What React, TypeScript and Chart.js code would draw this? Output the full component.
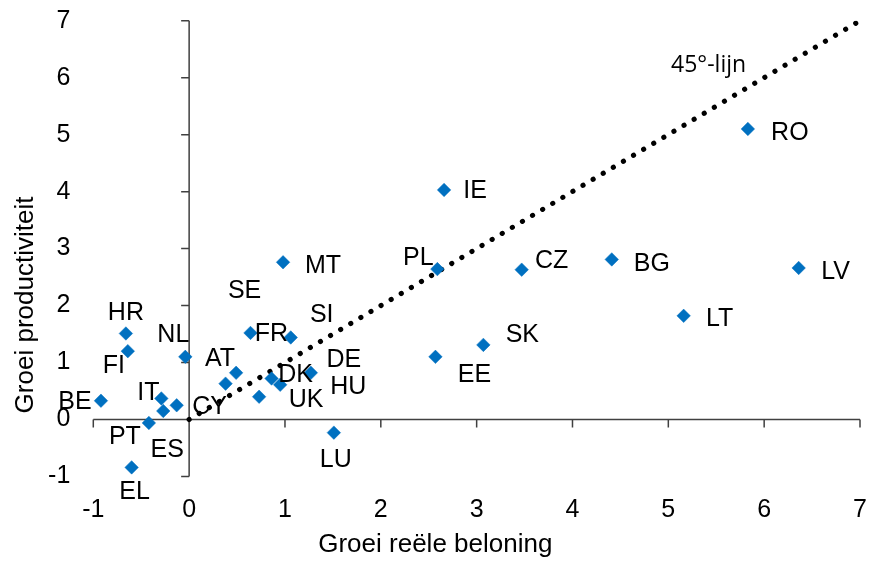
import { useEffect, useRef } from "react";
import { Chart, registerables } from "chart.js";

Chart.register(...registerables);

// ---- data ----
const countries = ["RO", "IE", "MT", "PL", "CZ", "BG", "LV", "LT", "SK", "EE", "HR", "FI", "NL", "BE", "IT", "CY", "ES", "PT", "EL", "FR", "SI", "AT", "SE", "DK", "HU", "DE", "UK", "LU"];
const wageGrowth = [5.83, 2.66, 0.98, 2.59, 3.47, 4.41, 6.36, 5.16, 3.07, 2.57, -0.66, -0.64, -0.04, -0.92, -0.29, -0.13, -0.27, -0.42, -0.6, 0.64, 1.06, 0.49, 0.38, 0.86, 0.95, 1.27, 0.73, 1.51];
const productivityGrowth = [5.1, 4.03, 2.76, 2.64, 2.63, 2.81, 2.66, 1.82, 1.31, 1.1, 1.51, 1.2, 1.1, 0.33, 0.37, 0.25, 0.15, -0.06, -0.84, 1.52, 1.44, 0.82, 0.63, 0.72, 0.61, 0.82, 0.4, -0.23];
const lineX = [0, 7];
const lineY = [0, 7];
const xTicks = [-1, 0, 1, 2, 3, 4, 5, 6, 7];
const yTicks = [-1, 0, 1, 2, 3, 4, 5, 6, 7];
const xTitle = "Groei reële beloning";
const yTitle = "Groei productiviteit";
const lineLabel = "45°-lijn";

// ---- layout / style (label offsets in px, relative to each marker) ----
const labelOffsets: [number, number][] = [
  [42, 2], [31, -1], [40, 2], [-19, -13], [30, -11], [40, 3], [37, 2], [36, 1], [39, -12], [39, 16],
  [0, -22], [-14, 13], [-12, -24], [-26, -1], [-13, -7], [33, 0], [4, 37], [-24, 12], [3, 23],
  [21, -1], [31, -24], [-16, -16], [19, -95], [24, -5], [68, 0], [33, -15], [47, 1], [2, 25],
];
const lineLabelAt = [5.42, 6.25];
const BLUE = "#0070C0";
const AXIS = "#404040";
const FONT = "'Liberation Sans', Arial, sans-serif";

const crossAxes = {
  id: "crossAxes",
  beforeDatasetsDraw(chart: any) {
    const { ctx, scales } = chart;
    const x = scales.x, y = scales.y;
    const x0 = x.getPixelForValue(0);
    const y0 = y.getPixelForValue(0);
    ctx.save();
    ctx.strokeStyle = AXIS;
    ctx.lineWidth = 1.5;
    ctx.beginPath();
    ctx.moveTo(x0, y.getPixelForValue(yTicks[0]));
    ctx.lineTo(x0, y.getPixelForValue(yTicks[yTicks.length - 1]));
    ctx.moveTo(x.getPixelForValue(xTicks[0]), y0);
    ctx.lineTo(x.getPixelForValue(xTicks[xTicks.length - 1]), y0);
    yTicks.forEach((v) => {
      const p = y.getPixelForValue(v);
      ctx.moveTo(x0 - 8, p);
      ctx.lineTo(x0, p);
    });
    xTicks.forEach((v) => {
      const p = x.getPixelForValue(v);
      ctx.moveTo(p, y0);
      ctx.lineTo(p, y0 + 8);
    });
    ctx.stroke();
    ctx.restore();
  },
};

const textLayer = {
  id: "textLayer",
  afterDatasetsDraw(chart: any) {
    const { ctx, scales, chartArea } = chart;
    const meta = chart.getDatasetMeta(0);
    ctx.save();
    ctx.fillStyle = "#000";
    ctx.textAlign = "center";
    ctx.textBaseline = "alphabetic";
    ctx.font = `25px ${FONT}`;
    const capHalf = 0.716 * 25 / 2;
    meta.data.forEach((el: any, i: number) => {
      const [dx, dy] = labelOffsets[i];
      ctx.fillText(countries[i], el.x + dx, el.y + dy + capHalf);
    });
    // 45 degree line label
    ctx.font = `23px 'Open Sans', sans-serif`;
    ctx.fillText(lineLabel, scales.x.getPixelForValue(lineLabelAt[0]), scales.y.getPixelForValue(lineLabelAt[1]) + 0.714 * 23 / 2);
    // axis titles
    ctx.font = `26px ${FONT}`;
    const tCap = 0.716 * 26 / 2;
    ctx.fillText(xTitle, chartArea.left + 342, chartArea.bottom + 66 + tCap);
    ctx.translate(24, 305);
    ctx.rotate(-Math.PI / 2);
    ctx.fillText(yTitle, 0, tCap);
    ctx.restore();
  },
};

export default function App() {
  const ref = useRef<HTMLCanvasElement | null>(null);
  useEffect(() => {
    if (!ref.current) return;
    const chart = new Chart(ref.current, {
      type: "scatter",
      data: {
        datasets: [
          {
            label: "Landen",
            data: countries.map((_, i) => ({ x: wageGrowth[i], y: productivityGrowth[i] })),
            pointStyle: "rectRot",
            pointRadius: 6.75,
            pointBackgroundColor: BLUE,
            pointBorderColor: BLUE,
            pointBorderWidth: 0.5,
            showLine: false,
          },
          {
            label: lineLabel,
            data: lineX.map((v, i) => ({ x: v, y: lineY[i] })),
            showLine: true,
            borderColor: "#000",
            borderWidth: 5.2,
            borderDash: [0.01, 11.74],
            borderCapStyle: "round",
            pointRadius: 0,
            fill: false,
          },
        ],
      },
      options: {
        responsive: false,
        animation: false,
        events: [],
        layout: { padding: { top: 20.7, right: 13, left: 0, bottom: 0 } },
        plugins: { legend: { display: false }, tooltip: { enabled: false } },
        scales: {
          x: {
            type: "linear",
            min: xTicks[0],
            max: xTicks[xTicks.length - 1],
            grid: { display: false, drawTicks: false },
            border: { display: false },
            ticks: { stepSize: 1, color: "#000", font: { size: 25, family: FONT }, padding: 18.5 },
            afterFit: (s: any) => { s.height = 84.5; s.paddingLeft = 0; s.paddingRight = 0; },
          },
          y: {
            type: "linear",
            min: yTicks[0],
            max: yTicks[yTicks.length - 1],
            grid: { display: false, drawTicks: false },
            border: { display: false },
            ticks: { stepSize: 1, color: "#000", font: { size: 25, family: FONT }, padding: 23 },
            afterFit: (s: any) => { s.width = 93.3; s.paddingTop = 0; s.paddingBottom = 0; },
          },
        },
      },
      plugins: [crossAxes, textLayer],
    });
    return () => chart.destroy();
  }, []);
  return (
    <div style={{ position: "absolute", left: 0, top: 0, width: 873, height: 561, background: "#fff" }}>
      <canvas ref={ref} width={873} height={561} style={{ display: "block" }} />
    </div>
  );
}
